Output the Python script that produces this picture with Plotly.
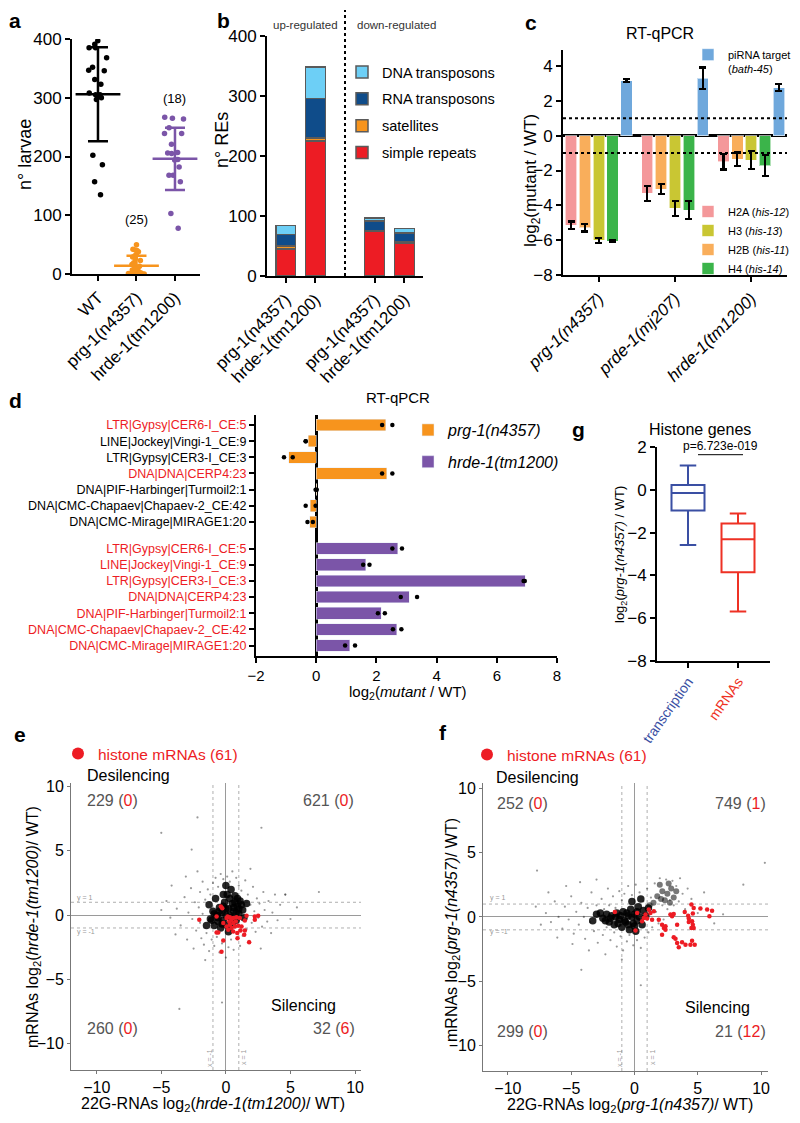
import plotly.graph_objects as go

FONT = "Arial, Liberation Sans, sans-serif"
# the page body has an 8px margin, so the figure is a bit smaller and all
# positions below are page pixels converted to paper fractions
OFF = 8
W, H = 800 - 2 * OFF, 1123 - 2 * OFF


def px(x):
    return (x - OFF) / W


def py(y):
    return 1 - (y - OFF) / H


RED = "#ED1C24"
ORANGE = "#F7941D"
PURPLE = "#7B55A8"
GREY = "#555555"

# ---------------- panel a : brood size
a_groups = ["WT", "prg-1(n4357)", "hrde-1(tm1200)"]
a_n = ["(20)", "(25)", "(18)"]
a_wt = [397, 391, 385, 385, 368, 352, 347, 346, 331, 323, 308, 305, 305, 303, 300, 297, 202, 186, 157, 135]
a_prg = [50, 42, 41, 40, 38, 33, 31, 29, 26, 23, 19, 16, 13, 11, 9, 7, 5, 4, 3, 2, 2, 1, 0, 0, 0]
a_hrde = [267, 265, 264, 249, 239, 239, 221, 207, 206, 205, 195, 194, 182, 168, 168, 157, 103, 78]
a_mean = [306, 14, 196]
a_sd = [80, 17, 53]
a_colors = ["#000000", ORANGE, PURPLE]

# ---------------- panel b : repeat elements
b_bars = ["prg-1(n4357)", "hrde-1(tm1200)", "prg-1(n4357)", "hrde-1(tm1200)"]
b_simple = [45, 225, 75, 55]
b_sat = [5, 5, 1, 2]
b_rna = [19, 66, 16, 15]
b_dna = [15, 52, 5, 7]
b_names = ["simple repeats", "satellites", "RNA transposons", "DNA transposons"]
b_colors = [RED, ORANGE, "#0F4C8A", "#6DCFF6"]

# ---------------- panel c : RT-qPCR histones
c_groups = ["prg-1(n4357)", "prde-1(mj207)", "hrde-1(tm1200)"]
c_h2a = [-5.15, -3.30, -1.50]
c_h2a_err = [0.22, 0.43, 0.44]
c_h2b = [-5.28, -3.08, -1.34]
c_h2b_err = [0.22, 0.29, 0.38]
c_h3 = [-6.00, -4.17, -1.40]
c_h3_err = [0.14, 0.44, 0.53]
c_h4 = [-6.05, -4.27, -1.72]
c_h4_err = [0.05, 0.50, 0.60]
c_pirna = [3.16, 3.29, 2.76]
c_pirna_err = [0.08, 0.62, 0.19]

# ---------------- panel d : RT-qPCR repeats
d_labels = ["LTR|Gypsy|CER6-I_CE:5", "LINE|Jockey|Vingi-1_CE:9", "LTR|Gypsy|CER3-I_CE:3",
            "DNA|DNA|CERP4:23", "DNA|PIF-Harbinger|Turmoil2:1", "DNA|CMC-Chapaev|Chapaev-2_CE:42",
            "DNA|CMC-Mirage|MIRAGE1:20"]
d_prg = [2.31, -0.26, -0.91, 2.34, 0.02, -0.19, -0.22]
d_prg_r1 = [2.19, -0.35, -1.07, 2.19, -0.02, -0.35, -0.29]
d_prg_r2 = [2.53, -0.35, -0.78, 2.53, 0.02, -0.02, -0.11]
d_prg_red = [True, False, False, True, False, False, False]
d_hrde = [2.71, 1.65, 6.95, 3.09, 2.16, 2.68, 1.11]
d_hrde_r1 = [2.53, 1.56, 6.89, 2.81, 2.05, 2.55, 0.96]
d_hrde_r2 = [2.85, 1.77, 6.93, 3.35, 2.28, 2.83, 1.29]

# ---------------- panel g : histone genes boxplot
g_cats = ["transcription", "mRNAs"]
g_colors = ["#3A4FA3", "#EE3124"]
g_low = [-2.58, -5.69]
g_q1 = [-0.97, -3.85]
g_med = [-0.15, -2.31]
g_q3 = [0.23, -1.57]
g_high = [1.14, -1.11]

# ---------------- panel e : hrde-1 scatter
e_core_x = [-1.2, -1.0, -0.9, -0.7, -0.6, -0.5, -0.4, -0.3, -0.2, -0.1, 0.0, 0.1, 0.2, 0.3, 0.4, 0.5,
            0.6, 0.7, 0.8, 0.9, 1.0, 1.1, 1.3, 1.4, 0.4, 0.0, -0.2, -1.3, -1.5, 0.2, 1.6, -0.8,
            -0.9, -0.6, -0.3, 0.0, 0.3, 0.6, 0.9, 1.2, -0.5, 0.1, 0.7, -1.1, 1.0, 0.5, -0.2, 0.8]
e_core_y = [-0.3, 0.3, -0.8, 0.0, -0.5, 0.6, -1.0, 0.2, -0.4, 1.0, 0.0, -0.8, 0.5, 1.3, -0.2, 0.9,
            0.3, 1.5, -0.4, 0.7, 0.1, 1.1, 0.4, -0.2, 2.0, 2.3, 1.6, 0.8, -0.8, -1.3, 0.9, 1.3,
            0.1, -0.2, -0.7, 0.5, 0.0, 0.6, 1.3, 0.8, 0.3, 1.6, 1.0, -0.4, 0.5, -0.6, 0.7, 0.2]
e_halo_x = [-3.8, -3.5, -3.2, -3.0, -2.9, -2.7, -2.6, -2.5, -2.4, -2.3, -2.1, -2.0, -2.0, -1.9, -1.8,
            -1.8, -1.7, -1.6, -1.5, -1.4, -1.3, -1.2, -1.1, -1.0, -0.9, -0.8, -0.7, -0.6, -0.5, -0.4,
            -0.3, -0.2, 0.0, 0.1, 0.2, 0.3, 0.4, 0.5, 0.6, 0.8, 0.9, 1.0, 1.1, 1.2, 1.3, 1.5, 1.6, 1.7,
            1.8, 1.9, 2.0, 2.1, 2.2, 2.3, 2.4, 2.5, 2.6, 2.8, 2.9, 3.0, 3.2, 3.3, 3.5, 3.6, 3.8, 4.0,
            4.2, 4.6, 5.0, 5.5, -4.3, -4.6, -5.0, -3.9, -4.2, -3.1, -2.2, 1.9, -1.6, 2.7,
            -5.0, -2.2, 2.75, -2.65, 7.2, -3.6, -0.3, 4.6]
e_halo_y = [0.5, -0.8, 1.4, -1.9, 0.2, 2.1, -0.3, -2.6, 1.0, -1.2, 0.6, -0.6, 1.8, -1.8, 2.6,
            0.1, -2.3, 1.2, -1.4, 2.0, -2.8, 1.6, -1.9, 2.5, -2.4, 2.9, -1.7, 2.2, -2.9, 3.2,
            -2.2, 2.8, -3.3, 3.0, -2.5, 2.6, -1.9, 3.4, -2.7, 2.9, -1.8, 2.3, -2.4, 1.9, -1.6, 2.7, -1.1, 1.6,
            -2.0, 0.8, -0.6, 2.2, 0.3, -1.3, 1.3, -0.2, 0.9, -0.9, 1.8, 0.4, -0.5, 1.1, -1.4, 0.2, 1.6, -0.4,
            0.8, 1.6, -0.3, 0.6, -0.2, 1.1, 0.4, -1.5, 2.3, 3.0, 3.4, 3.6, -3.5, -2.6,
            6.4, 7.6, 6.8, 5.1, 1.8, -7.3, -6.8, 1.6]
e_hist_x = [-0.39, -0.28, -0.72, -2.06, 0.05, 0.31, 0.57, 0.82, 1.08, 1.60, 2.24, 2.50, 2.24, 1.47,
            0.57, 0.31, 0.70, 0.95, 0.05, -0.20, -0.59, -0.72, 0.57, 0.88, 1.13, 1.47, 0.90, 1.42,
            -0.20, -0.34, 1.80, 0.26, 0.44, 0.77, 0.18, 0.44, 1.21, 0.13]
e_hist_y = [0.67, 0.54, -0.10, -0.36, -0.23, -0.16, -0.23, -0.16, -0.23, -0.05, -0.10, -0.05, -0.36, -0.41,
            -0.62, -0.75, -0.88, -0.83, -0.88, -0.62, -1.35, -1.35, -1.27, -1.40, -1.19, -1.19, -1.79, -1.53,
            -1.97, -2.85, -2.12, -0.49, -0.36, -0.49, -1.14, -1.01, -0.88, -0.10]
e_quads = [("229", "0"), ("621", "0"), ("260", "0"), ("32", "6")]

# ---------------- panel f : prg-1 scatter
f_core_x = [-2.5, -2.2, -2.0, -1.8, -1.6, -1.4, -1.2, -1.0, -0.9, -0.7, -0.5, -0.4, -0.3, -0.1, 0.0,
            0.1, 0.2, 0.3, 0.4, 0.6, 0.7, 0.9, 1.1, -0.2, 0.5, -3.0, -3.3,
            -2.7, -2.3, -1.9, -1.5, -1.1, -0.8, -0.6, -0.2, 0.2, -1.3, -0.5, 0.0]
f_core_y = [-0.1, 0.2, -0.4, 0.1, -0.6, 0.3, -0.2, -0.8, 0.4, -0.4, 0.1, -1.0, 0.6, -0.5, 0.2,
            -1.1, -0.3, 0.8, 0.0, -0.6, 0.5, 0.1, 0.7, 1.2, 1.4, 0.2, -0.3,
            0.3, -0.3, -0.1, 0.0, 0.1, -0.3, 0.3, 0.0, 0.4, -0.5, -0.6, -0.7]
f_lobe_x = [1.8, 2.2, 2.6, 2.9, 2.4, 2.0, 3.1, 1.5, 2.7, 3.3, 1.2, 2.1, 2.8]
f_lobe_y = [1.6, 2.0, 1.8, 2.2, 1.3, 2.5, 1.5, 1.1, 2.6, 2.0, 0.9, 1.4, 1.1]
f_halo_x = [-7.0, -6.6, -6.3, -6.0, -5.7, -5.5, -5.2, -5.0, -4.8, -4.6, -4.4, -4.2, -4.0, -3.9, -3.7,
            -3.5, -3.4, -3.2, -3.0, -2.9, -2.8, -2.6, -2.5, -2.4, -2.2, -2.1, -2.0, -1.9, -1.7, -1.6,
            -1.5, -1.4, -1.2, -1.1, -1.0, -0.9, -0.8, -0.6, -0.5, -0.4, -0.2, -0.1, 0.1, 0.2, 0.4, 0.5,
            0.7, 0.8, 1.0, 1.1, 1.3, 1.4, 1.6, 1.7, 1.9, 2.0, 2.2, 2.3, 2.5, 2.6, 2.8, 3.0, 3.1, 3.3,
            3.5, 3.6, 3.8, 4.0, 4.2, 4.5, -7.4, -7.8, -6.8, -5.4, -4.3, -3.0, -6.1, -4.9, -3.6, -2.3,
            -1.0, 5.0, 5.5, 6.3, 7.0, 10.3, -7.7, 8.6, -4.2, 0.5]
f_halo_y = [0.3, -0.4, 1.2, 0.0, -0.9, 0.8, -0.2, 1.6, -1.3, 0.4, -0.6, 1.1, 0.0, -1.7, 0.7,
            -0.4, 1.9, -1.1, 0.9, -2.0, 0.1, 1.4, -1.4, 0.6, -0.8, 2.2, 0.9, -1.8, 1.6, -1.2,
            0.7, -2.3, 2.0, -1.5, 1.3, -2.6, 1.8, -1.9, 2.4, -1.4, 1.7, -2.2, 2.5, -1.8, 1.9, -2.4,
            1.2, -1.6, 2.2, -1.2, 1.5, -0.8, 2.6, 0.4, -0.5, 3.0, 0.9, -0.2, 2.9, 0.6, 1.3, 2.8, 0.9, 2.4,
            1.2, 3.0, 1.8, 0.6, 2.2, 1.4, -0.6, 0.8, 1.9, 2.4, 2.7, 2.9, -1.6, -2.1, -2.6, -2.9,
            -3.3, 0.3, 1.9, -0.5, 0.2, 4.2, 3.6, 2.5, -4.1, -5.3]
f_hist_x = [-1.55, 0.21, 0.08, 0.74, 0.87, 1.13, 1.26, 1.53, 1.00, 0.60, 1.92, 2.18, 2.32, 2.45, 2.18,
            2.45, 2.84, 2.97, 3.10, 3.37, 3.10, 3.24, 3.37, 3.50, 3.76, 4.03, 3.97, 4.24, 4.29, 4.50,
            4.68, 4.55, 4.61, 4.50, 4.68, 4.55, 4.42, 4.76, 5.21, 5.74, 6.13, 5.92, 4.61, 4.29, 1.39]
f_hist_y = [0.39, 0.31, -1.06, -0.08, 0.18, 0.57, 0.31, 0.44, -0.13, -0.34, -0.21, -0.60, -0.86, -0.73, -1.38,
            -0.99, 0.18, 0.05, 0.23, -0.60, -1.58, -1.69, -2.03, -2.36, -1.97, -2.16, 0.39, 0.10, -0.13, 0.96,
            0.70, -0.34, -0.60, -0.86, -0.86, -1.84, -2.16, -2.16, 0.65, 0.57, 0.49, 0.05, 0.26, -0.39, -0.21]
f_quads = [("252", "0"), ("749", "1"), ("299", "0"), ("21", "12")]

fig = go.Figure()

# ---- a
for i, vals in enumerate([a_wt, a_prg, a_hrde]):
    fig.add_trace(go.Box(x=[i] * len(vals), y=vals, boxpoints="all", jitter=1, pointpos=0, width=0.62,
                         fillcolor="rgba(0,0,0,0)", line=dict(width=0),
                         marker=dict(color=a_colors[i], size=5.5), xaxis="x", yaxis="y", showlegend=False))
    fig.add_trace(go.Scatter(x=[i], y=[a_mean[i]], mode="markers", xaxis="x", yaxis="y", showlegend=False,
                             cliponaxis=False,
                             marker=dict(symbol="line-ew", size=32, line=dict(width=2.5, color=a_colors[i])),
                             error_y=dict(type="data", array=[a_sd[i]], width=10, thickness=2.5,
                                          color=a_colors[i])))

# ---- b
b_x = [1, 2, 4, 5]
for k, (vals, name, col) in enumerate(zip([b_simple, b_sat, b_rna, b_dna], b_names, b_colors)):
    fig.add_trace(go.Bar(x=b_x, y=vals, name=name, width=0.67, xaxis="x2", yaxis="y2",
                         marker=dict(color=col, line=dict(color="#5a5a5a", width=1.5)),
                         legend="legend", legendgroup=name, legendrank=4 - k))

# ---- c  (bars placed side by side inside each group)
slot = 0.182
c_series = [("H2A (<i>his-12</i>)", c_h2a, c_h2a_err, "#F4989A", 1),
            ("H2B (<i>his-11</i>)", c_h2b, c_h2b_err, "#F9AE5B", 3),
            ("H3 (<i>his-13</i>)", c_h3, c_h3_err, "#C9C633", 2),
            ("H4 (<i>his-14</i>)", c_h4, c_h4_err, "#3BB44A", 4)]
for k, (name, vals, err, col, rank) in enumerate(c_series):
    fig.add_trace(go.Bar(x=[g + (k - 2) * slot for g in range(3)], y=vals, width=0.15, name=name,
                         xaxis="x3", yaxis="y3", legend="legend3", legendrank=rank,
                         marker=dict(color=col, line=dict(color="rgba(255,255,255,0.6)", width=1)),
                         error_y=dict(type="data", array=err, color="black", thickness=2.2, width=3.5)))
fig.add_trace(go.Bar(x=[g + 2 * slot for g in range(3)], y=c_pirna, width=0.15,
                     name="piRNA target<br>(<i>bath-45</i>)", xaxis="x3", yaxis="y3", legend="legend2",
                     marker=dict(color="#6FA8DC", line=dict(color="rgba(255,255,255,0.6)", width=1)),
                     error_y=dict(type="data", array=c_pirna_err, color="black", thickness=2.2, width=3.5)))

# ---- d
d_pos_prg = list(range(7))
d_pos_hrde = [i + 7.65 for i in range(7)]
fig.add_trace(go.Bar(y=d_pos_prg, x=d_prg, orientation="h", width=0.72, marker_color=ORANGE,
                     name="<i>prg-1(n4357)</i>", xaxis="x4", yaxis="y4", legend="legend4", legendgroup="p"))
fig.add_trace(go.Bar(y=d_pos_hrde, x=d_hrde, orientation="h", width=0.72, marker_color=PURPLE,
                     name="<i>hrde-1(tm1200)</i>", xaxis="x4", yaxis="y4", legend="legend4", legendgroup="h"))
fig.add_trace(go.Scatter(y=d_pos_prg + d_pos_prg + d_pos_hrde + d_pos_hrde,
                         x=d_prg_r1 + d_prg_r2 + d_hrde_r1 + d_hrde_r2, mode="markers",
                         marker=dict(color="black", size=4.5), xaxis="x4", yaxis="y4", showlegend=False,
                         cliponaxis=False))

# ---- g
for i in range(2):
    fig.add_trace(go.Box(x=[i], q1=[g_q1[i]], median=[g_med[i]], q3=[g_q3[i]], lowerfence=[g_low[i]],
                         upperfence=[g_high[i]], width=0.66, whiskerwidth=0.5, fillcolor="white",
                         line=dict(color=g_colors[i], width=2), xaxis="x5", yaxis="y5", showlegend=False))


# ---- e / f scatter clouds
def cloud(ax, ay, core_x, core_y, halo_x, halo_y, hx, hy, leg, lobe=None):
    fig.add_trace(go.Scatter(x=halo_x, y=halo_y, mode="markers", xaxis=ax, yaxis=ay, showlegend=False,
                             marker=dict(color="rgba(0,0,0,0.4)", size=2.2)))
    if lobe:
        fig.add_trace(go.Scatter(x=lobe[0], y=lobe[1], mode="markers", xaxis=ax, yaxis=ay, showlegend=False,
                                 marker=dict(color="rgba(30,30,30,0.6)", size=6)))
    fig.add_trace(go.Scatter(x=core_x, y=core_y, mode="markers", xaxis=ax, yaxis=ay, showlegend=False,
                             marker=dict(color="rgba(0,0,0,0.85)", size=7.5)))
    fig.add_trace(go.Scatter(x=hx, y=hy, mode="markers", xaxis=ax, yaxis=ay, name="histone mRNAs (61)",
                             legend=leg, marker=dict(color=RED, size=4.5)))


cloud("x6", "y6", e_core_x, e_core_y, e_halo_x, e_halo_y, e_hist_x, e_hist_y, "legend5")
cloud("x7", "y7", f_core_x, f_core_y, f_halo_x, f_halo_y, f_hist_x, f_hist_y, "legend6",
      lobe=(f_lobe_x, f_lobe_y))

# ---------------- axes
base = dict(showline=True, linecolor="black", linewidth=2, ticks="outside", ticklen=5, tickwidth=2,
            tickcolor="black", showgrid=False, zeroline=False, tickfont=dict(size=17, color="black"),
            fixedrange=True, automargin=False)


def ax(**kw):
    d = dict(base)
    d.update(kw)
    return d


lay = dict(
    xaxis=ax(domain=[px(72), px(200)], range=[-0.675, 2.65], tickvals=[0, 1, 2], ticktext=a_groups,
             tickangle=-45, anchor="y"),
    yaxis=ax(domain=[py(274), py(39)], range=[0, 400], tickvals=[0, 100, 200, 300, 400], anchor="x"),
    xaxis2=ax(domain=[px(267), px(423)], range=[0.37, 5.63], tickvals=b_x, ticktext=b_bars, tickangle=-45,
              anchor="y2"),
    yaxis2=ax(domain=[py(276), py(36)], range=[0, 400], tickvals=[0, 100, 200, 300, 400], anchor="x2"),
    xaxis3=ax(domain=[px(563), px(787)], range=[-0.47, 2.47], tickvals=[0, 1, 2],
              ticktext=["<i>%s</i>" % g for g in c_groups], tickangle=-45, anchor="y3"),
    yaxis3=ax(domain=[py(275), py(50)], range=[-8, 4.92], tickvals=[-8, -6, -4, -2, 0, 2, 4], anchor="x3",
              zeroline=True, zerolinecolor="black", zerolinewidth=2.5),
    xaxis4=ax(domain=[px(256), px(557)], range=[-2, 8], tickvals=[-2, 0, 2, 4, 6, 8], anchor="y4",
              zeroline=True, zerolinecolor="black", zerolinewidth=2.5, tickfont=dict(size=15, color="black")),
    yaxis4=ax(domain=[py(656), py(415)], range=[14.3, -0.62], anchor="x4",
              tickvals=d_pos_prg + d_pos_hrde,
              ticktext=["<span style='color:%s'>%s</span>" % (RED if r else "black", l)
                        for l, r in zip(d_labels, d_prg_red)]
              + ["<span style='color:%s'>%s</span>" % (RED, l) for l in d_labels],
              tickfont=dict(size=12.5, color="black")),
    xaxis5=ax(domain=[px(657), px(770)], range=[-0.62, 1.64], tickvals=[0, 1], anchor="y5",
              ticktext=["<span style='color:%s'>%s</span>" % (c, t) for c, t in zip(g_colors, g_cats)],
              tickangle=-55, tickfont=dict(size=14)),
    yaxis5=ax(domain=[py(661), py(447)], range=[-8, 2], tickvals=[-8, -6, -4, -2, 0, 2], anchor="x5"),
)
sc = dict(linecolor="#777777", linewidth=1, tickcolor="#777777", tickwidth=1, ticklen=3,
          zeroline=True, zerolinecolor="#9a9a9a", zerolinewidth=1, tickvals=[-10, -5, 0, 5, 10],
          tickfont=dict(size=16, color="black"))
lay["xaxis6"] = ax(domain=[px(71), px(361)], range=[-11.99, 10.46], anchor="y6", **sc)
lay["yaxis6"] = ax(domain=[py(1070), py(783)], range=[-12.05, 10.28], anchor="x6", **sc)
lay["xaxis7"] = ax(domain=[px(483), px(768)], range=[-11.97, 10.55], anchor="y7", **sc)
lay["yaxis7"] = ax(domain=[py(1071), py(783)], range=[-11.95, 10.39], anchor="x7", **sc)

# ---------------- shapes
shapes = [dict(type="line", xref="x2", yref="paper", x0=3, x1=3, y0=py(276), y1=py(10),
               line=dict(color="black", width=2, dash="dot"))]
for yv in (1, -1):
    shapes.append(dict(type="line", xref="x3 domain", yref="y3", x0=0, x1=1, y0=yv, y1=yv,
                       line=dict(color="black", width=2, dash="dot")))
shapes.append(dict(type="line", xref="x5", yref="y5", x0=0.2, x1=1.1, y0=1.64, y1=1.64,
                   line=dict(color="black", width=1)))
for xa, ya in (("x6", "y6"), ("x7", "y7")):
    for v in (1, -1):
        shapes.append(dict(type="line", xref=xa, yref=ya + " domain", x0=v, x1=v, y0=0, y1=1, layer="below",
                           line=dict(color="#9a9a9a", width=0.8, dash="dot")))
        shapes.append(dict(type="line", xref=xa + " domain", yref=ya, x0=0, x1=1, y0=v, y1=v, layer="below",
                           line=dict(color="#9a9a9a", width=0.8, dash="dot")))

# ---------------- annotations
ann = []


def text(x, y, t, size=14, color="black", angle=0, xa="center", bold=False):
    ann.append(dict(x=px(x), y=py(y), xref="paper", yref="paper", text="<b>%s</b>" % t if bold else t,
                    showarrow=False, font=dict(size=size, color=color), textangle=angle, xanchor=xa,
                    yanchor="middle"))


for lab, x, y in (("a", 15, 21), ("b", 224, 21), ("c", 531, 22), ("d", 15, 400), ("g", 578, 430),
                  ("e", 20, 735), ("f", 443, 732)):
    text(x, y, lab, size=21, bold=True)

for i, n in enumerate(a_n):
    ann.append(dict(x=i, y=[419, 92, 298][i], xref="x", yref="y", text=n, showarrow=False,
                    font=dict(size=13)))
text(25, 155, "n° larvae", size=18, angle=-90)
text(222, 140, "n° REs", size=18, angle=-90)
text(305, 25, "up-regulated", size=11.5, color="#333333")
text(396, 25, "down-regulated", size=11.5, color="#333333")
text(660, 34, "RT-qPCR", size=16)
text(532, 181, "log<sub>2</sub>(mutant / WT)", size=17, angle=-90)
text(398, 398, "RT-qPCR", size=15)
text(408, 692, "log<sub>2</sub>(<i>mutant</i> / WT)", size=15)
text(700, 430, "Histone genes", size=16)
text(620, 555, "log<sub>2</sub>(<i>prg-1(n4357)</i> / WT)", size=13, angle=-90)
ann.append(dict(x=0.65, y=1.64, xref="x5", yref="y5", text="p=6.723e-019", showarrow=False,
                yanchor="bottom", font=dict(size=12)))

text(33, 927, "mRNAs log<sub>2</sub>(<i>hrde-1(tm1200)</i>/ WT)", size=16, angle=-90)
text(213, 1104, "22G-RNAs log<sub>2</sub>(<i>hrde-1(tm1200)</i>/ WT)", size=16)
text(452, 930, "mRNAs log<sub>2</sub>(<i>prg-1(n4357)</i>/ WT)", size=16, angle=-90)
text(630, 1105, "22G-RNAs log<sub>2</sub>(<i>prg-1(n4357)</i>/ WT)", size=16)

quad_pos_e = [(112, 800), (328, 800), (112, 1028), (334, 1028)]
quad_pos_f = [(522, 803), (740, 803), (522, 1031), (740, 1031)]
for quads, pos in ((e_quads, quad_pos_e), (f_quads, quad_pos_f)):
    for (n, h), (x, y) in zip(quads, pos):
        text(x, y, "%s (<span style='color:%s'>%s</span>)" % (n, RED, h), size=16, color=GREY)
text(128, 775, "Desilencing", size=16)
text(303, 1005, "Silencing", size=16)
text(537, 777, "Desilencing", size=16)
text(717, 1007, "Silencing", size=16)
for x0, xl, xr in ((75, 209, 243), (488, 619, 652)):
    text(x0, 898, "y = 1", size=7, color="#999999", xa="left")
    text(x0, 932, "y = -1", size=7, color="#999999", xa="left")
    text(xl, 1058, "x = -1", size=7, color="#999999", angle=-90)
    text(xr, 1058, "x = 1", size=7, color="#999999", angle=-90)

leg = dict(bgcolor="rgba(0,0,0,0)", borderwidth=0, xanchor="left", yanchor="top", itemclick=False,
           itemdoubleclick=False)
lay.update(
    legend=dict(leg, x=px(342), y=py(56), font=dict(size=14.5), traceorder="grouped", tracegroupgap=5),
    legend2=dict(leg, x=px(688), y=py(41), font=dict(size=11), valign="top"),
    legend3=dict(leg, x=px(688), y=py(197), font=dict(size=11), traceorder="normal"),
    legend4=dict(leg, x=px(408), y=py(413), font=dict(size=16), traceorder="grouped", tracegroupgap=8),
    legend5=dict(leg, x=px(58), y=py(737), font=dict(size=15.5, color=RED), itemsizing="constant"),
    legend6=dict(leg, x=px(467), y=py(738), font=dict(size=15.5, color=RED), itemsizing="constant"),
)

fig.update_layout(width=W, height=H, margin=dict(l=0, r=0, t=0, b=0, pad=0, autoexpand=False),
                  paper_bgcolor="white", plot_bgcolor="white", barmode="stack",
                  font=dict(family=FONT, color="black"),
                  shapes=shapes, annotations=ann, hovermode=False, **lay)

fig.write_html("out.html")
